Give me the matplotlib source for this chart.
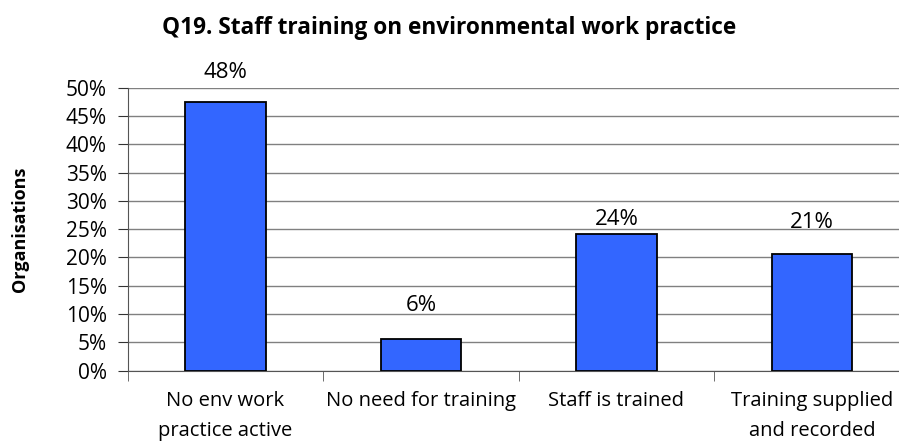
import matplotlib.pyplot as plt
import numpy as np

plt.rcParams['font.family'] = ['Open Sans', 'DejaVu Sans']

categories = ['No env work\npractice active', 'No need for training',
              'Staff is trained', 'Training supplied\nand recorded']
values = [47.4, 5.6, 24.2, 20.7]
labels = ['48%', '6%', '24%', '21%']
label_offsets = [4.3, 5.0, 1.5, 4.5]   # excel put the labels a bit unevenly

fig = plt.figure(figsize=(8.99, 4.43), dpi=100)
ax = fig.add_axes([0.142, 0.1632, 0.870, 0.639])

x = np.arange(len(categories))
ax.bar(x, values, width=0.41, color='#3366FF', edgecolor='black', linewidth=1.3, zorder=3)

for xi, v, lab, off in zip(x, values, labels, label_offsets):
    ax.text(xi, v + off, lab, ha='center', va='baseline', fontsize=16)

ax.set_xlim(-0.5, len(categories) - 0.5)
ax.set_ylim(0, 50)
ax.set_yticks(np.arange(0, 51, 5))
ax.set_yticklabels([f'{t}%' for t in range(0, 51, 5)], fontsize=15)
ax.yaxis.grid(True, color='#808080', linewidth=1, zorder=0)

ax.set_xticks(x)
ax.set_xticklabels(categories, fontsize=14.5, linespacing=1.7)
ax.tick_params(axis='x', length=0, pad=14.5)
ax.set_xticks(np.arange(-0.5, len(categories), 1), minor=True)
ax.tick_params(axis='x', which='minor', length=7, color='#555555')
ax.tick_params(axis='y', length=7, pad=8, color='#333333')

for s in ['top', 'right']:
    ax.spines[s].set_visible(False)
ax.spines['left'].set_color('#555555')
ax.spines['bottom'].set_color('#555555')

ax.set_ylabel('Organisations', fontsize=13, fontweight='bold')
ax.yaxis.set_label_coords(-0.126, 0.5)

fig.text(0.5, 0.923, 'Q19. Staff training on environmental work practice',
         ha='center', va='baseline', fontsize=16.3, fontweight='bold')

fig.savefig('out.png', dpi=100)
